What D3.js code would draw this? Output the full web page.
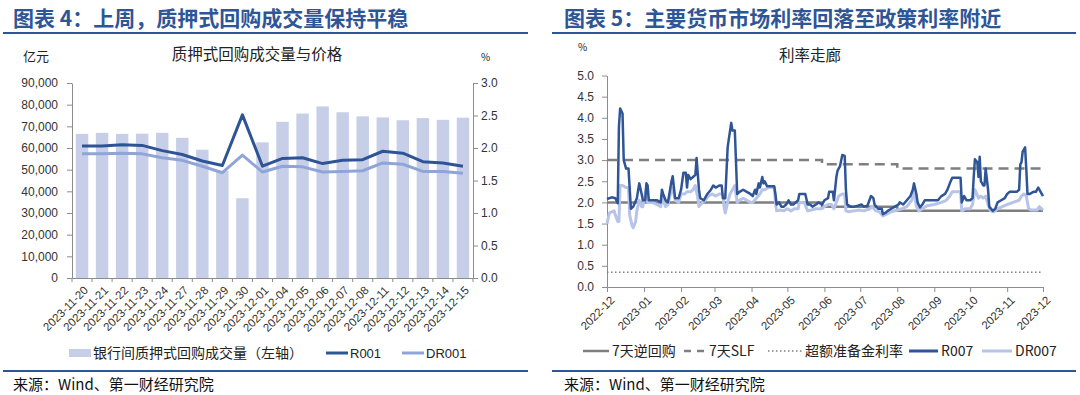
<!DOCTYPE html>
<html><head><meta charset="utf-8">
<script src="https://cdn.jsdelivr.net/npm/d3@7"></script>
<style>
html,body{margin:0;padding:0;background:#fff;}
svg{display:block;}
text{font-family:"Noto Sans CJK SC","Noto Sans",sans-serif;fill:#222;}
.num text, text.num{font-family:"Liberation Sans",Arial,sans-serif;}
</style></head><body>
<svg id="c" width="1080" height="395"></svg>
<script>
// ---------- Left chart data ----------
const repoDates = ["2023-11-20","2023-11-21","2023-11-22","2023-11-23","2023-11-24","2023-11-27","2023-11-28","2023-11-29","2023-11-30","2023-12-01","2023-12-04","2023-12-05","2023-12-06","2023-12-07","2023-12-08","2023-12-11","2023-12-12","2023-12-13","2023-12-14","2023-12-15"];
const volume = [66500,67000,66500,66600,67000,64700,59200,49500,36800,62600,72100,75900,79200,76500,74600,74100,72800,73800,73000,74000];
const r001 = [2.03,2.03,2.05,2.04,1.96,1.90,1.80,1.73,2.51,1.72,1.84,1.85,1.76,1.81,1.82,1.95,1.92,1.79,1.77,1.72];
const dr001 = [1.91,1.91,1.92,1.91,1.85,1.81,1.72,1.62,1.89,1.63,1.72,1.71,1.63,1.64,1.65,1.77,1.75,1.64,1.64,1.61];
const leftTicks = [0,10000,20000,30000,40000,50000,60000,70000,80000,90000];
const rightTicks = [0,0.5,1.0,1.5,2.0,2.5,3.0];

// ---------- Right chart data ----------
const monthTicks = ["2022-12-15","2023-01-15","2023-02-15","2023-03-15","2023-04-15","2023-05-15","2023-06-15","2023-07-15","2023-08-15","2023-09-15","2023-10-15","2023-11-15","2023-12-15"];
const rateTicks = [0,0.5,1.0,1.5,2.0,2.5,3.0,3.5,4.0,4.5,5.0];
const reverseRepo = [["2022-12-15",2.0],["2023-06-13",1.9],["2023-08-15",1.8],["2023-12-15",1.8]];
const slf = [["2022-12-15",3.0],["2023-06-13",2.9],["2023-08-15",2.8],["2023-12-15",2.8]];
const excessReserve = [["2022-12-15",0.35],["2023-12-15",0.35]];
const r007 = [
["2022-12-15",2.08],["2022-12-19",2.12],["2022-12-22",2.10],["2022-12-24",1.98],["2022-12-25",3.8],["2022-12-26",4.22],["2022-12-28",4.1],["2022-12-29",3.0],["2022-12-31",2.8],
["2023-01-02",2.8],["2023-01-04",1.85],["2023-01-06",1.9],["2023-01-09",2.1],["2023-01-11",2.45],["2023-01-13",2.2],["2023-01-14",2.05],["2023-01-16",2.05],["2023-01-17",2.45],["2023-01-18",2.4],["2023-01-19",2.05],["2023-01-22",2.05],["2023-01-26",2.05],["2023-01-29",2.0],["2023-01-30",2.3],["2023-01-31",2.2],
["2023-02-02",2.05],["2023-02-04",2.0],["2023-02-07",2.5],["2023-02-08",2.62],["2023-02-10",2.1],["2023-02-13",2.1],["2023-02-15",2.3],["2023-02-17",2.7],["2023-02-19",2.7],["2023-02-20",2.35],["2023-02-21",2.65],["2023-02-23",2.55],["2023-02-25",2.6],["2023-02-27",2.65],["2023-02-28",3.05],
["2023-03-02",2.3],["2023-03-03",2.1],["2023-03-06",2.05],["2023-03-09",2.2],["2023-03-12",2.3],["2023-03-14",2.4],["2023-03-16",2.35],["2023-03-19",2.4],["2023-03-21",2.4],["2023-03-22",2.1],["2023-03-24",2.1],["2023-03-26",3.3],["2023-03-27",3.5],["2023-03-29",3.88],["2023-03-30",3.7],
["2023-04-01",3.7],["2023-04-03",2.2],["2023-04-05",2.25],["2023-04-08",2.3],["2023-04-11",2.25],["2023-04-14",2.2],["2023-04-16",2.15],["2023-04-18",2.3],["2023-04-19",2.2],["2023-04-21",2.45],["2023-04-22",2.35],["2023-04-24",2.6],["2023-04-25",2.45],["2023-04-26",2.5],["2023-04-28",2.38],
["2023-05-01",2.38],["2023-05-04",2.38],["2023-05-05",2.2],["2023-05-06",1.95],["2023-05-08",2.0],["2023-05-10",1.9],["2023-05-12",1.9],["2023-05-14",1.95],["2023-05-16",2.05],["2023-05-18",1.95],["2023-05-20",1.95],["2023-05-22",2.0],["2023-05-24",2.05],["2023-05-25",2.2],["2023-05-28",2.2],["2023-05-30",2.2],
["2023-06-01",1.95],["2023-06-03",1.95],["2023-06-05",1.9],["2023-06-08",1.95],["2023-06-10",2.0],["2023-06-13",1.95],["2023-06-15",2.05],["2023-06-18",2.1],["2023-06-19",2.25],["2023-06-22",2.25],["2023-06-23",2.05],["2023-06-25",2.6],["2023-06-26",2.75],["2023-06-28",2.85],["2023-06-30",3.12],
["2023-07-02",3.1],["2023-07-03",2.3],["2023-07-04",1.95],["2023-07-07",1.9],["2023-07-10",1.9],["2023-07-13",1.92],["2023-07-16",1.95],["2023-07-18",1.9],["2023-07-21",1.92],["2023-07-24",2.15],["2023-07-26",2.1],["2023-07-27",1.95],["2023-07-30",1.85],
["2023-08-02",1.85],["2023-08-03",1.72],["2023-08-05",1.75],["2023-08-07",1.8],["2023-08-10",1.85],["2023-08-13",1.9],["2023-08-16",1.95],["2023-08-17",2.0],["2023-08-20",1.95],["2023-08-23",2.05],["2023-08-26",2.15],["2023-08-28",2.3],["2023-08-29",2.45],["2023-08-31",2.2],
["2023-09-01",2.0],["2023-09-03",1.88],["2023-09-05",1.95],["2023-09-07",2.05],["2023-09-09",2.05],["2023-09-12",2.05],["2023-09-15",2.05],["2023-09-18",2.05],["2023-09-21",2.15],["2023-09-24",2.2],["2023-09-26",2.3],["2023-09-28",2.45],["2023-09-30",2.58],
["2023-10-02",2.58],["2023-10-05",2.58],["2023-10-07",2.58],["2023-10-08",2.0],["2023-10-10",2.15],["2023-10-12",2.05],["2023-10-15",2.05],["2023-10-17",2.1],["2023-10-18",2.6],["2023-10-19",3.02],["2023-10-21",2.95],["2023-10-22",2.6],["2023-10-23",3.08],["2023-10-24",2.5],["2023-10-26",2.4],["2023-10-27",2.4],["2023-10-28",2.8],["2023-10-30",2.3],["2023-10-31",1.9],
["2023-11-03",1.8],["2023-11-05",1.85],["2023-11-07",2.0],["2023-11-10",2.05],["2023-11-13",2.1],["2023-11-15",2.2],["2023-11-17",2.25],["2023-11-20",2.25],["2023-11-23",2.25],["2023-11-25",2.3],["2023-11-26",2.9],["2023-11-27",2.95],["2023-11-28",3.2],["2023-11-30",3.3],
["2023-12-01",2.8],["2023-12-02",2.2],["2023-12-04",2.2],["2023-12-07",2.25],["2023-12-09",2.25],["2023-12-11",2.35],["2023-12-13",2.25],["2023-12-15",2.15]
];
const dr007 = [
["2022-12-15",1.5],["2022-12-17",1.75],["2022-12-21",1.8],["2022-12-22",1.7],["2022-12-24",1.55],["2022-12-25",1.55],["2022-12-26",2.4],["2022-12-28",2.4],["2022-12-31",2.35],
["2023-01-02",2.35],["2023-01-03",1.7],["2023-01-05",1.45],["2023-01-06",1.4],["2023-01-08",1.55],["2023-01-09",1.8],["2023-01-11",2.05],["2023-01-13",1.9],["2023-01-14",1.9],["2023-01-17",2.35],["2023-01-18",2.0],["2023-01-22",2.0],["2023-01-26",1.95],["2023-01-29",1.9],["2023-01-30",2.15],["2023-01-31",2.05],
["2023-02-02",1.9],["2023-02-04",1.95],["2023-02-07",2.3],["2023-02-08",2.35],["2023-02-10",2.05],["2023-02-13",2.0],["2023-02-15",2.2],["2023-02-18",2.2],["2023-02-20",2.25],["2023-02-23",2.25],["2023-02-25",2.3],["2023-02-27",2.4],
["2023-03-01",2.1],["2023-03-02",1.9],["2023-03-05",2.0],["2023-03-07",2.05],["2023-03-10",2.15],["2023-03-13",2.2],["2023-03-16",2.15],["2023-03-19",2.2],["2023-03-22",2.2],["2023-03-23",1.9],["2023-03-24",1.75],["2023-03-26",2.0],["2023-03-28",2.2],["2023-03-30",2.3],
["2023-04-01",2.4],["2023-04-03",2.0],["2023-04-05",2.05],["2023-04-08",2.1],["2023-04-11",2.05],["2023-04-14",2.0],["2023-04-16",2.0],["2023-04-19",2.1],["2023-04-22",2.2],["2023-04-24",2.3],["2023-04-26",2.3],["2023-04-29",2.35],
["2023-05-04",2.35],["2023-05-05",2.0],["2023-05-06",1.8],["2023-05-09",1.82],["2023-05-12",1.8],["2023-05-15",1.85],["2023-05-18",1.8],["2023-05-21",1.85],["2023-05-24",1.85],["2023-05-25",2.0],["2023-05-29",2.0],
["2023-06-01",1.8],["2023-06-04",1.82],["2023-06-08",1.85],["2023-06-13",1.85],["2023-06-15",1.9],["2023-06-18",1.95],["2023-06-21",1.95],["2023-06-23",1.85],["2023-06-25",2.0],["2023-06-27",2.15],["2023-06-30",2.2],
["2023-07-02",2.2],["2023-07-03",1.8],["2023-07-05",1.78],["2023-07-10",1.8],["2023-07-14",1.82],["2023-07-18",1.8],["2023-07-23",1.85],["2023-07-25",1.9],["2023-07-28",1.8],["2023-07-31",1.78],
["2023-08-03",1.68],["2023-08-06",1.72],["2023-08-10",1.78],["2023-08-15",1.82],["2023-08-19",1.85],["2023-08-23",1.9],["2023-08-27",2.05],["2023-08-29",2.25],["2023-08-31",1.9],
["2023-09-02",1.8],["2023-09-05",1.85],["2023-09-09",1.92],["2023-09-15",1.95],["2023-09-21",2.0],["2023-09-25",2.05],["2023-09-28",2.15],["2023-09-30",2.25],
["2023-10-07",2.25],["2023-10-08",1.8],["2023-10-11",1.85],["2023-10-15",1.85],["2023-10-17",1.95],["2023-10-19",2.3],["2023-10-22",2.1],["2023-10-24",2.15],["2023-10-26",2.1],["2023-10-28",2.15],["2023-10-30",1.95],
["2023-11-01",1.8],["2023-11-04",1.78],["2023-11-07",1.85],["2023-11-11",1.9],["2023-11-15",1.95],["2023-11-20",2.0],["2023-11-25",2.05],["2023-11-27",2.15],["2023-11-29",2.2],
["2023-12-01",2.15],["2023-12-03",1.85],["2023-12-05",1.82],["2023-12-10",1.82],["2023-12-12",1.9],["2023-12-15",1.82]
];

// ---------- Styles ----------
const BLUE_T = "#2e5596", AXIS = "#8c8c8c";
const C_BAR = "#c7cfe8", C_R001 = "#2f5496", C_DR001 = "#8fa5d8";
const C_R007 = "#2f5597", C_DR007 = "#b7c4e8", C_POL = "#7f7f7f";

const svg = d3.select("#c");
const parse = d3.timeParse("%Y-%m-%d");

function header(x0, x1, tx, title){
  svg.append("text").attr("x", tx).attr("y", 26).text(title)
    .style("font-size","21px").style("font-weight","700").style("fill",BLUE_T);
  svg.append("line").attr("x1",x0).attr("x2",x1).attr("y1",33).attr("y2",33)
    .attr("stroke",BLUE_T).attr("stroke-width",2.2);
  svg.append("line").attr("x1",x0).attr("x2",x1).attr("y1",371).attr("y2",371)
    .attr("stroke",BLUE_T).attr("stroke-width",2.2);
  svg.append("text").attr("x", tx).attr("y", 390).text("来源：Wind、第一财经研究院")
    .style("font-size","15px").style("fill","#111");
}
header(3, 528, 13, "图表 4：上周，质押式回购成交量保持平稳");
header(552, 1076, 564, "图表 5：主要货币市场利率回落至政策利率附近");

function styleAxis(g){
  g.selectAll("path,line").attr("stroke",AXIS).attr("stroke-width",1);
  g.selectAll("text").attr("class","num").style("font-size","12px").style("fill","#333");
}

// ================= LEFT CHART =================
{
  const L = 72, R = 473, T = 83, B = 278;
  const x = d3.scaleBand().domain(repoDates).range([L,R]).paddingInner(0.38).paddingOuter(0.19);
  const yL = d3.scaleLinear().domain([0,90000]).range([B,T]);
  const yR = d3.scaleLinear().domain([0,3]).range([B,T]);

  svg.append("text").attr("x",23).attr("y",61).text("亿元").style("font-size","13px");
  svg.append("text").attr("x",257).attr("y",60).attr("text-anchor","middle").text("质押式回购成交量与价格").style("font-size","15.5px");
  svg.append("text").attr("x",481).attr("y",61).text("%").style("font-size","10px");

  svg.append("g").selectAll("rect").data(repoDates).join("rect")
    .attr("x", d=>x(d)).attr("width", x.bandwidth())
    .attr("y", (d,i)=>yL(volume[i])).attr("height",(d,i)=>B-yL(volume[i]))
    .attr("fill", C_BAR);

  const gl = svg.append("g").attr("transform",`translate(${L},0)`)
    .call(d3.axisLeft(yL).tickValues(leftTicks).tickSize(5).tickSizeOuter(0).tickPadding(9).tickFormat(d3.format(",")));
  styleAxis(gl);
  const gr = svg.append("g").attr("transform",`translate(${R},0)`)
    .call(d3.axisRight(yR).tickValues(rightTicks).tickSize(5).tickSizeOuter(0).tickPadding(3).tickFormat(d3.format(".1f")));
  styleAxis(gr);

  const gx = svg.append("g").attr("transform",`translate(0,${B})`)
    .call(d3.axisBottom(x).tickSize(0).tickSizeOuter(0));
  styleAxis(gx);
  gx.selectAll("text").style("font-size","11.5px").style("text-anchor","end")
    .attr("x",0).attr("y",0).attr("dy","0.35em")
    .attr("transform","translate(4,10) rotate(-45)");
  const step = x.step();
  const bounds = d3.range(repoDates.length+1).map(i => x(repoDates[0]) - x.step()*x.paddingInner()/2 + i*step);
  gx.selectAll("line.bt").data(bounds).join("line").attr("class","bt")
    .attr("x1",d=>d).attr("x2",d=>d).attr("y1",0).attr("y2",4).attr("stroke",AXIS);

  const line = d3.line().x((d,i)=>x(repoDates[i])+x.bandwidth()/2).y(d=>yR(d));
  svg.append("path").datum(dr001).attr("d",line).attr("fill","none").attr("stroke",C_DR001).attr("stroke-width",3).attr("stroke-linejoin","round");
  svg.append("path").datum(r001).attr("d",line).attr("fill","none").attr("stroke",C_R001).attr("stroke-width",3).attr("stroke-linejoin","round");

  const ly = 353;
  svg.append("rect").attr("x",69).attr("y",ly-4).attr("width",22).attr("height",8).attr("fill",C_BAR);
  svg.append("text").attr("x",93).attr("y",ly+5).text("银行间质押式回购成交量（左轴）").style("font-size","14px");
  svg.append("line").attr("x1",326).attr("x2",348).attr("y1",ly).attr("y2",ly).attr("stroke",C_R001).attr("stroke-width",3);
  svg.append("text").attr("x",350).attr("y",ly+5).text("R001").attr("class","num").style("font-size","13px");
  svg.append("line").attr("x1",402).attr("x2",424).attr("y1",ly).attr("y2",ly).attr("stroke",C_DR001).attr("stroke-width",3);
  svg.append("text").attr("x",426).attr("y",ly+5).text("DR001").attr("class","num").style("font-size","13px");
}

// ================= RIGHT CHART =================
{
  const L = 607, R = 1043, T = 75.5, B = 287;
  const x = d3.scaleTime().domain([parse(monthTicks[0]), parse(monthTicks[monthTicks.length-1])]).range([L,R]);
  const y = d3.scaleLinear().domain([0,5]).range([B,T]);

  svg.append("text").attr("x",578).attr("y",51).text("%").style("font-size","10px");
  svg.append("text").attr("x",810).attr("y",61).attr("text-anchor","middle").text("利率走廊").style("font-size","15.5px");

  const gy = svg.append("g").attr("transform",`translate(${L},0)`)
    .call(d3.axisLeft(y).tickValues(rateTicks).tickSize(5).tickSizeOuter(0).tickPadding(8).tickFormat(d3.format(".1f")));
  styleAxis(gy);
  const gx = svg.append("g").attr("transform",`translate(0,${B})`)
    .call(d3.axisBottom(x).tickValues(monthTicks.map(parse)).tickSize(5).tickSizeOuter(0).tickFormat(d3.timeFormat("%Y-%m")));
  styleAxis(gx);
  gx.selectAll("text").style("font-size","11.5px").style("text-anchor","end")
    .attr("x",0).attr("y",0).attr("dy","0.35em")
    .attr("transform","translate(5,11) rotate(-45)");

  const ln = d3.line().x(d=>x(parse(d[0]))).y(d=>y(d[1]));
  const st = d3.line().curve(d3.curveStepAfter).x(d=>x(parse(d[0]))).y(d=>y(d[1]));
  svg.append("path").datum(reverseRepo).attr("d",st).attr("fill","none").attr("stroke",C_POL).attr("stroke-width",2.5);
  svg.append("path").datum(slf).attr("d",st).attr("fill","none").attr("stroke",C_POL).attr("stroke-width",2.5).attr("stroke-dasharray","10,6");
  svg.append("path").datum(excessReserve).attr("d",ln).attr("fill","none").attr("stroke",C_POL).attr("stroke-width",1.5).attr("stroke-dasharray","1.5,2.5");
  svg.append("path").datum(dr007).attr("d",ln).attr("fill","none").attr("stroke",C_DR007).attr("stroke-width",3).attr("stroke-linejoin","round");
  svg.append("path").datum(r007).attr("d",ln).attr("fill","none").attr("stroke",C_R007).attr("stroke-width",2.5).attr("stroke-linejoin","round");

  const ly = 351;
  const items = [
    {x:583, w:26, t:"7天逆回购", c:C_POL, sw:2.5, da:null},
    {x:684, w:22, t:"7天SLF", c:C_POL, sw:2.5, da:"7,6"},
    {x:768, w:34, t:"超额准备金利率", c:C_POL, sw:1.5, da:"1.5,2.5"},
    {x:909, w:29, t:"R007", c:C_R007, sw:3, da:null},
    {x:982, w:30, t:"DR007", c:C_DR007, sw:3, da:null}
  ];
  items.forEach(it=>{
    const l = svg.append("line").attr("x1",it.x).attr("x2",it.x+it.w).attr("y1",ly).attr("y2",ly)
      .attr("stroke",it.c).attr("stroke-width",it.sw);
    if(it.da) l.attr("stroke-dasharray",it.da);
    svg.append("text").attr("x",it.x+it.w+3).attr("y",ly+5).text(it.t).style("font-size","14px");
  });
}
</script>
</body></html>
